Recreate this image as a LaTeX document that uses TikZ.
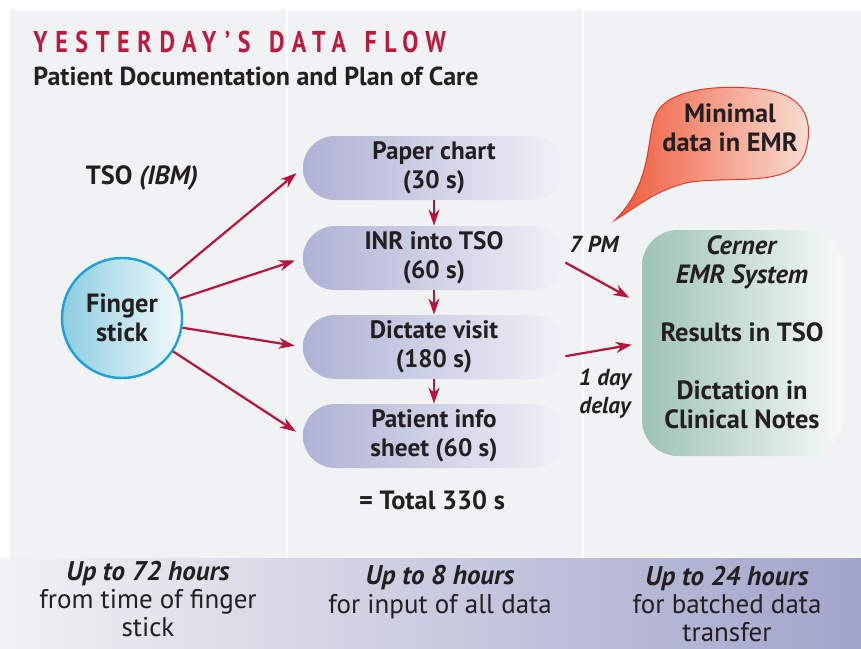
\documentclass[tikz,border=0pt]{standalone}
\usepackage{fontspec}
\setmainfont{PT Sans}
\newfontfamily\titlefont[LetterSpace=32]{PT Sans}
\usetikzlibrary{arrows.meta}
\definecolor{flowred}{HTML}{B8133B}
\definecolor{titlered}{HTML}{BC1A3E}
\definecolor{bggray}{HTML}{F1F2F4}
\definecolor{bandblue}{HTML}{A2A5CB}
\definecolor{pillleft}{HTML}{AFB2D4}
\definecolor{pillright}{HTML}{F1F1F8}
\definecolor{fsleft}{HTML}{8ECDE0}
\definecolor{fsright}{HTML}{F2F9FB}
\definecolor{fsborder}{HTML}{1BA1DA}
\definecolor{emrleft}{HTML}{9DC3B5}
\definecolor{emrright}{HTML}{F6F9F7}
\definecolor{bubleft}{HTML}{EF5A3A}
\definecolor{bubright}{HTML}{F9E2D8}
\definecolor{bubborder}{HTML}{E43A2E}
\definecolor{ink}{HTML}{231F20}
\tikzset{
  arr/.style={draw=flowred, line width=1.1pt, -{Stealth[length=8pt,width=5.5pt,inset=2.5pt]}},
  pill/.style={rectangle, rounded corners=16pt, minimum width=131pt, minimum height=32pt,
    left color=pillleft, right color=pillright, align=center, inner sep=0pt,
    font=\bfseries\fontsize{12.6}{14.5}\selectfont, text=ink},
  txt/.style={align=center, inner sep=0pt, text=ink, font=\bfseries\fontsize{13.2}{14.5}\selectfont},
  note/.style={align=center, inner sep=0pt, text=ink, font=\bfseries\itshape\fontsize{11.6}{14}\selectfont},
  hrs/.style={align=center, inner sep=0pt, text=ink, font=\fontsize{13.5}{14.2}\selectfont}
}
\begin{document}
\begin{tikzpicture}[x=0.5pt,y=-0.5pt]
  % Background panels
  \fill[white] (0,0) rectangle (861,648);
  \fill[bggray] (10,10) rectangle (861,558);
  \draw[white, line width=1pt] (287,8) -- (287,558);
  \draw[white, line width=1pt] (583,8) -- (583,558);
  \shade[left color=bggray, right color=bandblue] (0,558) rectangle (861,648);
  % Headings
  \node (title) [anchor=base west, inner sep=0pt, text=titlered] at (33,52)
    {\scalebox{0.8}[1]{\titlefont\bfseries\fontsize{15}{15}\selectfont YESTERDAY’S\hspace{3pt} DATA\hspace{3pt} FLOW}};
  \node (sub) [anchor=base west, inner sep=0pt, text=ink, font=\bfseries\fontsize{13}{14}\selectfont] at (33,85)
    {Patient Documentation and Plan of Care};
  \node (tso) [txt] at (142,178) {TSO \textit{(IBM)}};
  % Finger stick
  \node (fs) [circle, minimum size=60pt, line width=1.2pt, draw=fsborder,
    left color=fsleft, right color=fsright, txt] at (122,318) {Finger\\stick};
  % Steps
  \node (paper) [pill] at (434,168) {Paper chart\\(30 s)};
  \node (inr) [pill] at (434,258) {INR into TSO\\(60 s)};
  \node (dictate) [pill] at (434,347) {Dictate visit\\(180 s)};
  \node (info) [pill] at (434,436) {Patient info\\sheet (60 s)};
  \node (total) [txt] at (432,500) {= Total 330 s};
  \draw[arr] (paper.south) -- (inr.north);
  \draw[arr] (inr.south) -- (dictate.north);
  \draw[arr] (dictate.south) -- (info.north);
  \foreach \s in {paper,inr,dictate,info}
    \draw[arr, shorten >=4pt] (fs) -- (\s.west);
  % EMR box
  \node (cerner) [rectangle, rounded corners=18pt, minimum width=100pt, minimum height=113pt,
    left color=emrleft, right color=emrright] at (742,343) {};
  \node (emrtext) [txt] at (742,332)
    {\textit{Cerner}\\\textit{EMR System}\\[14.5pt]Results in TSO\\[14.5pt]Dictation in\\Clinical Notes};
  \draw[arr, shorten >=7pt] (inr.-2) -- (cerner.159);
  \draw[arr, shorten >=5pt] (dictate.-4) -- (cerner.west);
  \node (pm) [note] at (594,244) {7 PM};
  \node (delay) [note] at (605,394) {1 day\\delay};
  % Speech bubble
  \shadedraw[left color=bubleft, right color=bubright, draw=bubborder, line width=0.5pt]
    (615,220) .. controls (640,205) and (655,190) .. (690,182)
    .. controls (740,176) and (795,188) .. (806,150)
    .. controls (815,115) and (800,93) .. (760,89)
    .. controls (715,84) and (670,90) .. (657,112)
    .. controls (645,135) and (655,180) .. (615,220) -- cycle;
  \node (minimal) [txt] at (730,128) {Minimal\\data in EMR};
  % Time spans
  \node (span1) [hrs] at (148,599) {\textbf{\textit{Up to 72 hours}}\\from time of finger\\stick};
  \node (span2) [hrs] at (440,592) {\textbf{\textit{Up to 8 hours}}\\for input of all data};
  \node (span3) [hrs] at (727,604) {\textbf{\textit{Up to 24 hours}}\\for batched data\\transfer};
\end{tikzpicture}
\end{document}
